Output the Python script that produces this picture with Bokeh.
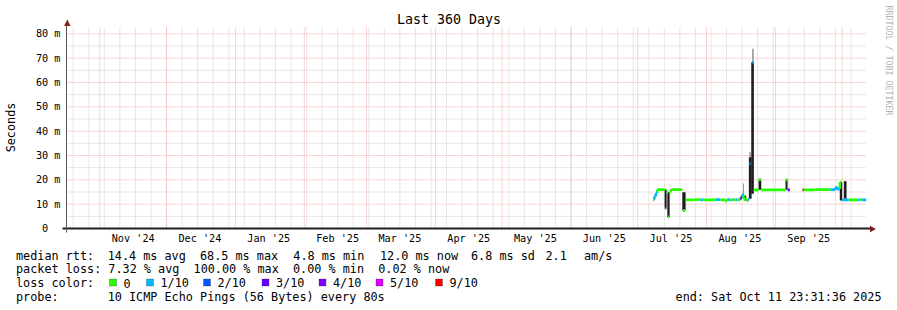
from datetime import datetime, timedelta
import math
import pandas as pd
from bokeh.plotting import figure
from bokeh.models import (FixedTicker, CustomJSTickFormatter, DatetimeTickFormatter,
                          Label, PolyAnnotation)
from bokeh.embed import file_html
from bokeh.resources import INLINE

# ---------------- data ----------------
TITLE = "Last 360 Days"
END = datetime(2025, 10, 11, 23, 31, 36)
START = END - timedelta(days=360)

loss_labels = ["0", "1/10", "2/10", "3/10", "4/10", "5/10", "9/10"]
loss_colors = ["#26ff00", "#00b8ff", "#0059ff", "#5e00ff", "#7e00ff", "#dd00ff", "#ff0000"]

y_ticks_ms = [0, 10, 20, 30, 40, 50, 60, 70, 80]
y_minor_ms = [5, 15, 25, 35, 45, 55, 65, 75]

# median rtt pieces: each value (ms) holds from its time until the next time (nan = no line)
med_time = ["2025-07-07 21:00", "2025-07-08 12:00", "2025-07-09 04:00", "2025-07-09 20:00",
            "2025-07-13 08:00", "2025-07-13 16:00", "2025-07-14 00:00", "2025-07-14 16:00",
            "2025-07-15 02:00", "2025-07-15 10:00", "2025-07-15 22:00", "2025-07-21 02:00",
            "2025-07-21 12:00", "2025-07-22 08:00", "2025-07-22 14:00", "2025-07-26 12:00",
            "2025-07-29 08:00", "2025-07-30 16:00", "2025-08-05 03:00", "2025-08-07 07:00",
            "2025-08-09 12:00", "2025-08-10 00:00", "2025-08-10 08:00", "2025-08-11 12:00",
            "2025-08-12 18:00", "2025-08-13 12:00", "2025-08-14 00:00", "2025-08-14 20:00",
            "2025-08-16 06:00", "2025-08-17 00:00", "2025-08-17 16:00", "2025-08-19 00:00",
            "2025-08-19 18:00", "2025-08-20 04:00", "2025-08-20 08:00", "2025-08-20 18:00",
            "2025-08-21 14:00", "2025-08-22 04:00", "2025-08-24 12:00", "2025-08-25 14:00",
            "2025-09-05 14:00", "2025-09-06 12:00", "2025-09-07 12:00",
            "2025-09-13 04:00", "2025-09-13 20:00", "2025-09-19 00:00", "2025-09-25 19:00",
            "2025-09-28 00:00", "2025-09-28 22:00", "2025-09-30 00:00", "2025-09-30 14:00",
            "2025-10-01 01:00", "2025-10-04 00:00", "2025-10-07 20:00", "2025-10-08 20:00",
            "2025-10-10 00:00", "2025-10-11 21:00"]
NaN = float("nan")
med_ms = [11.8, 13.1, 14.6, 16.0,
          8.1, NaN, 14.9, 4.8,
          NaN, 14.9, 16.0, NaN,
          7.4, NaN, 11.8, 11.9,
          11.8, 11.8, 11.9, 11.8,
          11.2, 11.8, 11.9, 11.8,
          11.9, 11.8, 11.9, 11.8,
          12.6, 13.9, 12.2, 11.5,
          12.0, NaN, 26.6, NaN,
          68.3, 15.9, 20.1, 15.9,
          20.0, 15.9, NaN,
          15.9, 15.9, 16.0, 16.0,
          16.9, 16.2, 19.0, NaN,
          11.8, 11.8, 11.8, 11.9,
          11.8, NaN]
med_loss = [0, 1, 1, 0,
            0, 0, 0, 0,
            0, 0, 0, 0,
            0, 0, 0, 0,
            1, 0, 1, 0,
            0, 0, 1, 0,
            1, 0, 1, 0,
            3, 1, 0, 0,
            1, 0, 1, 0,
            1, 0, 0, 0,
            0, 3, 0,
            6, 0, 0, 1,
            1, 1, 0, 0,
            1, 0, 1, 0,
            1, 0]

# dark smoke (ms)
smoke_start = ["2025-07-13 03:00", "2025-07-14 08:30", "2025-07-21 02:00", "2025-08-17 19:00",
               "2025-08-20 01:00", "2025-08-21 03:00", "2025-08-24 10:00", "2025-09-05 13:00",
               "2025-09-28 00:00", "2025-09-29 23:00", "2025-10-01 18:30"]
smoke_end = ["2025-07-14 01:00", "2025-07-15 09:20", "2025-07-22 14:00", "2025-08-18 21:00",
             "2025-08-21 06:30", "2025-08-22 07:00", "2025-08-25 15:00", "2025-09-06 11:00",
             "2025-09-28 22:00", "2025-10-01 01:00", "2025-10-02 23:45"]
smoke_lo = [8.1, 4.6, 7.4, 11.5, 12.2, 14.3, 15.9, 15.9, 16.0, 11.5, 12.2]
smoke_hi = [16.0, 14.9, 14.9, 13.5, 29.3, 68.3, 20.1, 20.0, 17.0, 19.0, 19.4]

# light smoke (ms)
haze_start = ["2025-08-17 09:00", "2025-08-20 06:00", "2025-08-21 12:00"]
haze_end = ["2025-08-17 21:00", "2025-08-20 22:00", "2025-08-22 06:00"]
haze_lo = [13.0, 29.3, 68.3]
haze_hi = [18.5, 31.5, 73.9]

stats_row1 = ["median rtt:", "14.4 ms avg", "68.5 ms max", "4.8 ms min", "12.0 ms now",
              "6.8 ms sd", "2.1", "am/s"]
stats_row2 = "packet loss: 7.32 % avg  100.00 % max  0.00 % min  0.02 % now"
probe_text = "10 ICMP Echo Pings (56 Bytes) every 80s"
end_text = "end: Sat Oct 11 23:31:36 2025"

# ---------------- layout ----------------
W, H = 897, 310
FL, FR, FT, FB = 66, 866, 26, 228          # plot area in canvas pixels
PX_PER_MS = 24.333 / 10.0
YMAX = (FB - FT) / PX_PER_MS / 1000.0       # seconds at top of plot area
FONT = "DejaVu Sans Mono"

span = END - START
k = span / (FR - FL)                         # time per pixel
x_lo = START - k * FL
x_hi = END + k * (W - FR)
y_lo = -(H - FB) / PX_PER_MS / 1000.0
y_hi = FB / PX_PER_MS / 1000.0

ms = lambda t: pd.Timestamp(t).value / 1e6
nb = lambda s: s.replace(" ", "\u00a0")

p = figure(width=W, height=H, x_axis_type="datetime",
           x_range=(x_lo, x_hi), y_range=(y_lo, y_hi),
           output_backend="svg", toolbar_location=None, min_border=0)
p.background_fill_color = "white"
p.border_fill_color = "white"
p.outline_line_color = None
p.xgrid.visible = False
p.ygrid.visible = False

# grid lines (limited to the plot area)
month_starts = pd.date_range("2024-11-01", "2025-10-01", freq="MS")
weeks = pd.date_range("2024-10-20", "2025-10-11", freq="W-SUN")
GRID_MINOR = "#cfcfcf"
GRID_MAJOR = "#f3aaaa"
p.segment(x0=weeks, x1=weeks, y0=0, y1=YMAX, line_color=GRID_MINOR, line_dash="1 1", line_width=1)
p.segment(x0=START, x1=END, y0=[v / 1000 for v in y_minor_ms], y1=[v / 1000 for v in y_minor_ms],
          line_color=GRID_MINOR, line_dash="1 1", line_width=1)
p.segment(x0=month_starts, x1=month_starts, y0=0, y1=YMAX, line_color=GRID_MAJOR,
          line_dash="1 1", line_width=1)
p.segment(x0=START, x1=END, y0=[v / 1000 for v in y_ticks_ms[1:]],
          y1=[v / 1000 for v in y_ticks_ms[1:]], line_color=GRID_MAJOR, line_dash="1 1",
          line_width=1)

# axes (fixed at the plot-area edges)
label_pos = [t + pd.Timedelta(days=15) for t in month_starts]
label_pos = [t for t in label_pos if START <= t <= END]
xa = p.xaxis[0]
ya = p.yaxis[0]
xa.fixed_location = 0.0
ya.fixed_location = ms(START)
xa.ticker = FixedTicker(ticks=[ms(t) for t in label_pos])
fmt = "%b '%y"
xa.formatter = DatetimeTickFormatter(years=fmt, months=fmt, days=fmt, hours=fmt,
                                     minutes=fmt, hourmin=fmt, seconds=fmt,
                                     minsec=fmt, milliseconds=fmt, microseconds=fmt)
ya.ticker = FixedTicker(ticks=[v / 1000 for v in y_ticks_ms])
ya.formatter = CustomJSTickFormatter(
    code="return tick < 1e-9 ? '0\\u00a0\\u00a0' : Math.round(tick*1000) + '\\u00a0m';")
xa.bounds = (ms(START - 4 * k), ms(END + 4 * k))
ya.bounds = (-4 / PX_PER_MS / 1000, YMAX + 1 / PX_PER_MS / 1000)
xa.axis_line_color = "#1f1f1f"
xa.axis_line_width = 2
ya.axis_line_color = "#5a5a5a"
ya.axis_line_width = 1
for ax in (xa, ya):
    ax.major_tick_in = 0
    ax.major_tick_out = 0
    ax.minor_tick_in = 0
    ax.minor_tick_out = 0
    ax.major_label_text_font = FONT
    ax.major_label_text_font_size = "10.2px"
    ax.major_label_text_color = "black"
xa.major_label_standoff = 4
ya.major_label_standoff = 6

# smoke
p.quad(left=pd.to_datetime(haze_start), right=pd.to_datetime(haze_end),
       bottom=[v / 1000 for v in haze_lo], top=[v / 1000 for v in haze_hi],
       fill_color="#9a9a9a", line_color=None)
p.quad(left=pd.to_datetime(smoke_start), right=pd.to_datetime(smoke_end),
       bottom=[v / 1000 for v in smoke_lo], top=[v / 1000 for v in smoke_hi],
       fill_color="#1e1e1e", line_color=None)

# median line, coloured by loss
mt = pd.to_datetime(med_time)
hx0, hx1, hy, hc = [], [], [], []
vx, vy0, vy1, vc = [], [], [], []
for i in range(len(mt) - 1):
    v = med_ms[i]
    if math.isnan(v):
        continue
    hx0.append(mt[i]); hx1.append(mt[i + 1]); hy.append(v / 1000)
    hc.append(loss_colors[med_loss[i]])
    nv = med_ms[i + 1]
    if not math.isnan(nv) and abs(nv - v) <= 3.0:
        vx.append(mt[i + 1]); vy0.append(v / 1000); vy1.append(nv / 1000)
        vc.append(loss_colors[med_loss[i + 1]])
p.segment(x0=vx, x1=vx, y0=vy0, y1=vy1, line_color=vc, line_width=2.4)
p.segment(x0=hx0, x1=hx1, y0=hy, y1=hy, line_color=hc, line_width=2.8, line_cap="butt")


# ---------------- decorations (canvas pixels, y from top) ----------------
def poly(xs, ys, fill, line=None, lw=1):
    p.add_layout(PolyAnnotation(xs=xs, ys=ys, xs_units="canvas", ys_units="canvas",
                                fill_color=fill, fill_alpha=1.0, line_color=line,
                                line_width=lw, level="overlay"))


def text(x, y, s, size, align="left", angle=0.0, color="black"):
    p.add_layout(Label(x=x, y=y, x_units="canvas", y_units="canvas", text=nb(s),
                       text_font=FONT, text_font_size=f"{size}px", text_align=align,
                       text_baseline="middle", angle=angle, text_color=color))


poly([66.8, 63.6, 70.0], [19.0, 25.5, 25.5], "#801f1f")
poly([875.5, 869.5, 869.5], [228.5, 225.3, 231.7], "#801f1f")

text(448.5, 19, TITLE, 13.3, align="center")
text(10.5, 127, "Seconds", 11.8, align="center", angle=math.pi / 2)
text(888, 60, "RRDTOOL / TOBI OETIKER", 8.3, align="center", angle=-math.pi / 2,
     color="#b4b4b4")

row1_x = [15.5, 107.2, 199.5, 292.8, 379.5, 470.5, 545.0, 583.5]
for s, x in zip(stats_row1, row1_x):
    text(x, 255, s, 11.8)
text(15.5, 268.5, stats_row2, 11.8)
text(15.5, 282.5, "loss color:", 11.8)
box_x = [109, 146, 203, 261.5, 318.5, 375.5, 435]
for lab, col, bx in zip(loss_labels, loss_colors, box_x):
    poly([bx, bx + 7, bx + 7, bx], [278.5, 278.5, 285.5, 285.5], col, line="#333333", lw=1)
    text(bx + 14, 282.5, lab, 11.8)
text(15.5, 296, "probe:", 11.8)
text(107.2, 296, probe_text, 11.8)
text(881, 296, end_text, 11.8, align="right")

open("out.html", "w").write(file_html(p, INLINE))
